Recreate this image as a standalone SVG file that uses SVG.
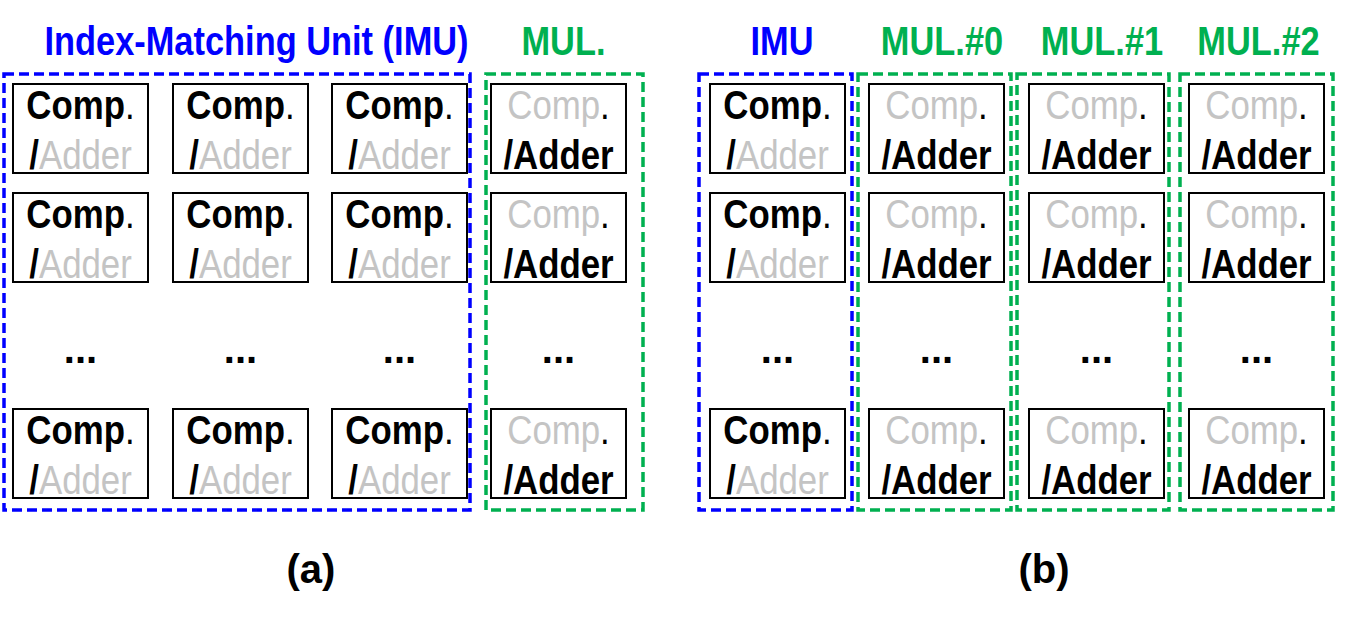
<svg xmlns="http://www.w3.org/2000/svg" width="1345" height="619" viewBox="0 0 1345 619">
<style>
.bg{fill:#fff}
.box{fill:#fff;stroke:#000;stroke-width:2}
.grp{fill:none;stroke-width:3.5;stroke-dasharray:10 5}
.blue{stroke:#0000FF}
.green{stroke:#00B050}
.t{font-family:"Liberation Sans",Arial,sans-serif;font-size:40px;text-anchor:middle;fill:#000}
.b{font-weight:bold}
.g{fill:#C4C4C4}
.hb{fill:#0000FF}
.hg{fill:#00B050}
</style>
<rect class="bg" x="0" y="0" width="1345" height="619"/>

<!-- group outlines -->
<g id="group-a-imu"><rect class="grp blue" x="4" y="74" width="466" height="436"/></g>
<g id="group-a-mul"><rect class="grp green" x="486" y="74" width="157" height="436"/></g>
<g id="group-b-imu"><rect class="grp blue" x="699" y="74" width="153" height="436"/></g>
<g id="group-b-mul0"><rect class="grp green" x="858" y="74" width="153" height="436"/></g>
<g id="group-b-mul1"><rect class="grp green" x="1017" y="74" width="152" height="436"/></g>
<g id="group-b-mul2"><rect class="grp green" x="1180" y="74" width="153" height="436"/></g>

<!-- headings -->
<g id="headings">
<text class="t b hb" transform="translate(256.5 55) scale(0.86 1)">Index-Matching Unit (IMU)</text>
<text class="t b hg" transform="translate(563.5 55) scale(0.86 1)">MUL.</text>
<text class="t b hb" transform="translate(782 55) scale(0.86 1)">IMU</text>
<text class="t b hg" transform="translate(942 55) scale(0.86 1)">MUL.#0</text>
<text class="t b hg" transform="translate(1102 55) scale(0.86 1)">MUL.#1</text>
<text class="t b hg" transform="translate(1258.5 55) scale(0.86 1)">MUL.#2</text>
</g>

<!-- (a) IMU cells -->
<g id="a-imu-r1c1" transform="translate(13 84)"><rect class="box" width="135" height="89"/><text class="t" transform="translate(67.5 35) scale(0.87 1)"><tspan class="b">Comp</tspan>.</text><text class="t" transform="translate(67.5 85) scale(0.87 1)"><tspan class="b">/</tspan><tspan class="g">Adder</tspan></text></g>
<g id="a-imu-r1c2" transform="translate(173 84)"><rect class="box" width="135" height="89"/><text class="t" transform="translate(67.5 35) scale(0.87 1)"><tspan class="b">Comp</tspan>.</text><text class="t" transform="translate(67.5 85) scale(0.87 1)"><tspan class="b">/</tspan><tspan class="g">Adder</tspan></text></g>
<g id="a-imu-r1c3" transform="translate(332 84)"><rect class="box" width="135" height="89"/><text class="t" transform="translate(67.5 35) scale(0.87 1)"><tspan class="b">Comp</tspan>.</text><text class="t" transform="translate(67.5 85) scale(0.87 1)"><tspan class="b">/</tspan><tspan class="g">Adder</tspan></text></g>
<g id="a-imu-r2c1" transform="translate(13 193)"><rect class="box" width="135" height="89"/><text class="t" transform="translate(67.5 35) scale(0.87 1)"><tspan class="b">Comp</tspan>.</text><text class="t" transform="translate(67.5 85) scale(0.87 1)"><tspan class="b">/</tspan><tspan class="g">Adder</tspan></text></g>
<g id="a-imu-r2c2" transform="translate(173 193)"><rect class="box" width="135" height="89"/><text class="t" transform="translate(67.5 35) scale(0.87 1)"><tspan class="b">Comp</tspan>.</text><text class="t" transform="translate(67.5 85) scale(0.87 1)"><tspan class="b">/</tspan><tspan class="g">Adder</tspan></text></g>
<g id="a-imu-r2c3" transform="translate(332 193)"><rect class="box" width="135" height="89"/><text class="t" transform="translate(67.5 35) scale(0.87 1)"><tspan class="b">Comp</tspan>.</text><text class="t" transform="translate(67.5 85) scale(0.87 1)"><tspan class="b">/</tspan><tspan class="g">Adder</tspan></text></g>
<g id="a-imu-r3c1" transform="translate(13 409)"><rect class="box" width="135" height="89"/><text class="t" transform="translate(67.5 35) scale(0.87 1)"><tspan class="b">Comp</tspan>.</text><text class="t" transform="translate(67.5 85) scale(0.87 1)"><tspan class="b">/</tspan><tspan class="g">Adder</tspan></text></g>
<g id="a-imu-r3c2" transform="translate(173 409)"><rect class="box" width="135" height="89"/><text class="t" transform="translate(67.5 35) scale(0.87 1)"><tspan class="b">Comp</tspan>.</text><text class="t" transform="translate(67.5 85) scale(0.87 1)"><tspan class="b">/</tspan><tspan class="g">Adder</tspan></text></g>
<g id="a-imu-r3c3" transform="translate(332 409)"><rect class="box" width="135" height="89"/><text class="t" transform="translate(67.5 35) scale(0.87 1)"><tspan class="b">Comp</tspan>.</text><text class="t" transform="translate(67.5 85) scale(0.87 1)"><tspan class="b">/</tspan><tspan class="g">Adder</tspan></text></g>

<!-- (a) MUL cells -->
<g id="a-mul-r1" transform="translate(491 84)"><rect class="box" width="135" height="89"/><text class="t" transform="translate(67.5 35) scale(0.87 1)"><tspan class="g">Comp</tspan>.</text><text class="t b" transform="translate(67.5 85) scale(0.87 1)">/Adder</text></g>
<g id="a-mul-r2" transform="translate(491 193)"><rect class="box" width="135" height="89"/><text class="t" transform="translate(67.5 35) scale(0.87 1)"><tspan class="g">Comp</tspan>.</text><text class="t b" transform="translate(67.5 85) scale(0.87 1)">/Adder</text></g>
<g id="a-mul-r3" transform="translate(491 409)"><rect class="box" width="135" height="89"/><text class="t" transform="translate(67.5 35) scale(0.87 1)"><tspan class="g">Comp</tspan>.</text><text class="t b" transform="translate(67.5 85) scale(0.87 1)">/Adder</text></g>

<!-- (b) IMU cells -->
<g id="b-imu-r1" transform="translate(710 84)"><rect class="box" width="135" height="89"/><text class="t" transform="translate(67.5 35) scale(0.87 1)"><tspan class="b">Comp</tspan>.</text><text class="t" transform="translate(67.5 85) scale(0.87 1)"><tspan class="b">/</tspan><tspan class="g">Adder</tspan></text></g>
<g id="b-imu-r2" transform="translate(710 193)"><rect class="box" width="135" height="89"/><text class="t" transform="translate(67.5 35) scale(0.87 1)"><tspan class="b">Comp</tspan>.</text><text class="t" transform="translate(67.5 85) scale(0.87 1)"><tspan class="b">/</tspan><tspan class="g">Adder</tspan></text></g>
<g id="b-imu-r3" transform="translate(710 409)"><rect class="box" width="135" height="89"/><text class="t" transform="translate(67.5 35) scale(0.87 1)"><tspan class="b">Comp</tspan>.</text><text class="t" transform="translate(67.5 85) scale(0.87 1)"><tspan class="b">/</tspan><tspan class="g">Adder</tspan></text></g>

<!-- (b) MUL cells -->
<g id="b-mul0-r1" transform="translate(869 84)"><rect class="box" width="135" height="89"/><text class="t" transform="translate(67.5 35) scale(0.87 1)"><tspan class="g">Comp</tspan>.</text><text class="t b" transform="translate(67.5 85) scale(0.87 1)">/Adder</text></g>
<g id="b-mul0-r2" transform="translate(869 193)"><rect class="box" width="135" height="89"/><text class="t" transform="translate(67.5 35) scale(0.87 1)"><tspan class="g">Comp</tspan>.</text><text class="t b" transform="translate(67.5 85) scale(0.87 1)">/Adder</text></g>
<g id="b-mul0-r3" transform="translate(869 409)"><rect class="box" width="135" height="89"/><text class="t" transform="translate(67.5 35) scale(0.87 1)"><tspan class="g">Comp</tspan>.</text><text class="t b" transform="translate(67.5 85) scale(0.87 1)">/Adder</text></g>
<g id="b-mul1-r1" transform="translate(1029 84)"><rect class="box" width="135" height="89"/><text class="t" transform="translate(67.5 35) scale(0.87 1)"><tspan class="g">Comp</tspan>.</text><text class="t b" transform="translate(67.5 85) scale(0.87 1)">/Adder</text></g>
<g id="b-mul1-r2" transform="translate(1029 193)"><rect class="box" width="135" height="89"/><text class="t" transform="translate(67.5 35) scale(0.87 1)"><tspan class="g">Comp</tspan>.</text><text class="t b" transform="translate(67.5 85) scale(0.87 1)">/Adder</text></g>
<g id="b-mul1-r3" transform="translate(1029 409)"><rect class="box" width="135" height="89"/><text class="t" transform="translate(67.5 35) scale(0.87 1)"><tspan class="g">Comp</tspan>.</text><text class="t b" transform="translate(67.5 85) scale(0.87 1)">/Adder</text></g>
<g id="b-mul2-r1" transform="translate(1189 84)"><rect class="box" width="135" height="89"/><text class="t" transform="translate(67.5 35) scale(0.87 1)"><tspan class="g">Comp</tspan>.</text><text class="t b" transform="translate(67.5 85) scale(0.87 1)">/Adder</text></g>
<g id="b-mul2-r2" transform="translate(1189 193)"><rect class="box" width="135" height="89"/><text class="t" transform="translate(67.5 35) scale(0.87 1)"><tspan class="g">Comp</tspan>.</text><text class="t b" transform="translate(67.5 85) scale(0.87 1)">/Adder</text></g>
<g id="b-mul2-r3" transform="translate(1189 409)"><rect class="box" width="135" height="89"/><text class="t" transform="translate(67.5 35) scale(0.87 1)"><tspan class="g">Comp</tspan>.</text><text class="t b" transform="translate(67.5 85) scale(0.87 1)">/Adder</text></g>

<!-- ellipses -->
<g id="ellipses">
<text class="t b" x="80.5" y="363">...</text>
<text class="t b" x="240.5" y="363">...</text>
<text class="t b" x="399.5" y="363">...</text>
<text class="t b" x="558.5" y="363">...</text>
<text class="t b" x="777.5" y="363">...</text>
<text class="t b" x="936.5" y="363">...</text>
<text class="t b" x="1096.5" y="363">...</text>
<text class="t b" x="1256.5" y="363">...</text>
</g>

<g id="connectors"></g>

<!-- captions -->
<g id="captions">
<text class="t b" x="311" y="583">(a)</text>
<text class="t b" x="1044" y="583">(b)</text>
</g>
</svg>
